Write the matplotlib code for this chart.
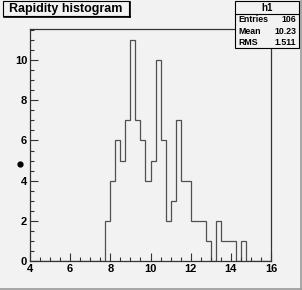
import matplotlib
matplotlib.use("Agg")
import matplotlib.pyplot as plt
import numpy as np
from matplotlib.patches import Rectangle
from matplotlib.lines import Line2D

# histogram h1: 48 bins of width 0.25 from 4 to 16
bin_lo, bin_hi, n_bins = 4.0, 16.0, 48
counts = [0]*15 + [2, 4, 6, 5, 7, 11, 7, 6, 4, 5, 10, 6, 2, 3, 7, 4, 4, 2, 2, 2,
                   1, 0, 2, 1, 1, 1, 0, 1] + [0]*5
x_ticks = [4, 6, 8, 10, 12, 14, 16]
y_ticks = [0, 2, 4, 6, 8, 10]
title = "Rapidity histogram"
stats_name = "h1"
stats_rows = [("Entries", "106"), ("Mean", "10.23"), ("RMS", "1.511")]

W, H = 302, 290
bg = "#f2f2f2"
plt.rcParams['font.family'] = ['Liberation Sans', 'DejaVu Sans']

fig = plt.figure(figsize=(W/100, H/100), dpi=100, facecolor=bg)
ax = fig.add_axes([30/W, 1-261/H, 241/W, 232/H], facecolor=bg)

edges = np.linspace(bin_lo, bin_hi, n_bins+1)
ax.stairs(counts, edges, color="#505050", lw=0.9)

ax.set_xlim(bin_lo, bin_hi)
ax.set_ylim(0, max(counts)*1.05)
ax.set_xticks(x_ticks)
ax.set_yticks(y_ticks)
ax.set_xticks(np.arange(4, 16.01, 0.5), minor=True)
ax.set_yticks(np.arange(0, 11.51, 0.5), minor=True)
ax.tick_params(which='both', direction='in', color='#333333', width=0.8)
ax.tick_params(which='major', length=6, labelsize=8, pad=2)
ax.tick_params(which='minor', length=3)
ax.tick_params(axis='x', top=False)
ax.tick_params(axis='y', right=False)
for lab in ax.get_xticklabels() + ax.get_yticklabels():
    lab.set_fontweight('bold')
for s in ax.spines.values():
    s.set_color('#333333')
    s.set_linewidth(0.9)

def px(x, y):
    return x/W, 1-y/H

# title box with shadow
fig.add_artist(Rectangle(px(3, 16), 126/W, 15/H, transform=fig.transFigure,
                         facecolor=bg, edgecolor='black', lw=0.8))
fig.add_artist(Line2D([px(4, 17)[0], px(130, 17)[0]], [px(4, 17)[1]]*2,
                      transform=fig.transFigure, color='black', lw=1.2))
fig.add_artist(Line2D([px(130, 2)[0]]*2, [px(130, 2)[1], px(130, 17)[1]],
                      transform=fig.transFigure, color='black', lw=1.2))
fig.text(*px(66, 9), title, ha='center', va='center', fontsize=9, fontweight='bold')

# stats box
fig.add_artist(Rectangle(px(235, 48), 64/W, 47/H, transform=fig.transFigure,
                         facecolor=bg, edgecolor='black', lw=0.8))
fig.add_artist(Line2D([px(235, 14)[0], px(299, 14)[0]], [px(0, 14)[1]]*2,
                      transform=fig.transFigure, color='black', lw=0.8))
fig.text(*px(267, 8), stats_name, ha='center', va='center', fontsize=7, fontweight='bold')
for i, (k, v) in enumerate(stats_rows):
    yy = 20 + i*11
    fig.text(*px(238, yy), k, ha='left', va='center', fontsize=6.3, fontweight='bold')
    fig.text(*px(296, yy), v, ha='right', va='center', fontsize=6.3, fontweight='bold')

# stray marker left of the y axis
fig.add_artist(Line2D([px(20, 164)[0]], [px(20, 164)[1]], transform=fig.transFigure,
                      marker='o', color='black', markersize=3.5, lw=0))

# canvas border
fig.add_artist(Line2D([px(0, 288.5)[0], px(301, 288.5)[0]], [px(0, 288.5)[1]]*2,
                      transform=fig.transFigure, color='#999999', lw=1.2))
fig.add_artist(Line2D([px(300.5, 0)[0]]*2, [px(0, 0)[1], px(0, 289)[1]],
                      transform=fig.transFigure, color='#999999', lw=1.2))

fig.savefig("out.png", dpi=100, facecolor=bg)
